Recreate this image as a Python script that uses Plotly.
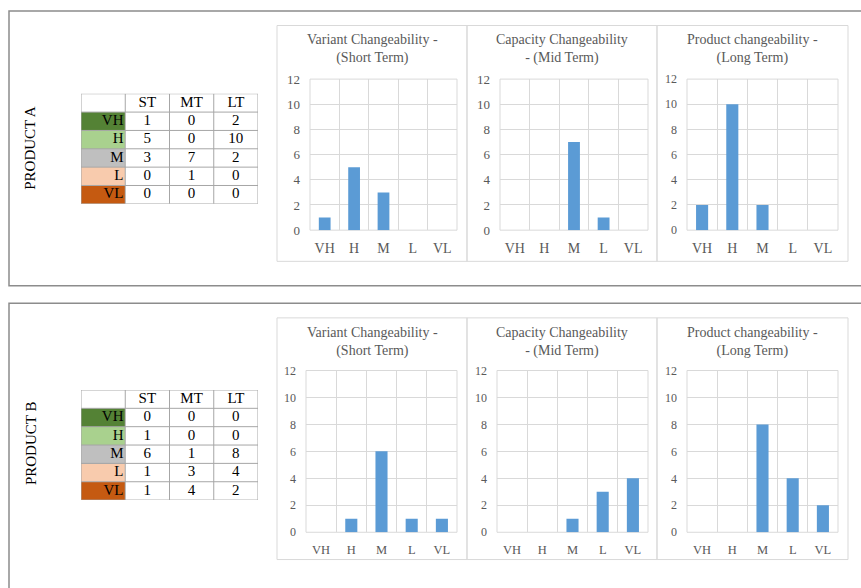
import plotly.graph_objects as go

# ---------------- data ----------------
cats = ["VH", "H", "M", "L", "VL"]
terms = ["ST", "MT", "LT"]
titles = ["Variant Changeability -<br>(Short Term)",
          "Capacity Changeability<br>- (Mid Term)",
          "Product changeability -<br>(Long Term)"]
a_st = [1, 5, 3, 0, 0]
a_mt = [0, 0, 7, 1, 0]
a_lt = [2, 10, 2, 0, 0]
b_st = [0, 1, 6, 1, 1]
b_mt = [0, 0, 1, 3, 4]
b_lt = [0, 0, 8, 4, 2]
products = ["PRODUCT A", "PRODUCT B"]
row_colors = ["#548235", "#A9D18E", "#BFBFBF", "#F8CBAD", "#C55A11"]

W, H = 861, 588
def fx(px): return px / W
def fy(py): return 1 - py / H

FONT = "Liberation Serif"
GRAY = "#595959"
GRID = "#D9D9D9"
BAR = "#5B9BD5"
TLINE = "#A6A6A6"

fig = go.Figure()

# plot-area geometry in pixels: (x0, x1, ytop, ybottom, tickfont, catfont, catstandoff)
geo = [
    (310, 457, 74, 229, 13, 14, 8),
    (500, 648, 74, 229, 13, 14, 8),
    (687, 838, 74, 229, 12, 14, 8),
    (306, 457, 373, 539, 12, 12.5, 8),
    (497, 648, 373, 539, 12, 12.5, 8),
    (687, 838, 373, 539, 12, 12.5, 8),
]
series = [a_st, a_mt, a_lt, b_st, b_mt, b_lt]
xpos = list(range(len(cats)))
minor_vals = [i - 0.5 for i in range(len(cats) + 1)]

shapes = []
annotations = []
for i, (vals, g) in enumerate(zip(series, geo)):
    x0, x1, yt, yb, tsz, csz, cso = g
    ax = "" if i == 0 else str(i + 1)
    fig.add_trace(go.Bar(x=xpos, y=vals, xaxis="x" + ax, yaxis="y" + ax,
                         marker=dict(color=BAR, line=dict(width=0)),
                         width=0.4, showlegend=False, hoverinfo="skip"))
    fig.layout["xaxis" + ax] = dict(
        domain=[fx(x0), fx(x1)], range=[-0.5, 4.5], anchor="y" + ax,
        tickvals=xpos, ticktext=cats, showgrid=False, zeroline=False,
        showline=False, ticks="", ticklabelstandoff=cso,
        tickfont=dict(family=FONT, size=csz, color=GRAY),
        minor=dict(tickvals=minor_vals, showgrid=True, gridcolor=GRID,
                   gridwidth=1, ticks=""))
    fig.layout["yaxis" + ax] = dict(
        domain=[fy(yb), fy(yt)], range=[0, 12], anchor="x" + ax,
        tick0=0, dtick=2, showgrid=True, gridcolor=GRID, gridwidth=1,
        zeroline=False, showline=False, ticks="", ticklabelstandoff=9,
        tickfont=dict(family=FONT, size=tsz, color=GRAY))
    shapes.append(dict(type="rect", xref="x" + ax + " domain", yref="y" + ax + " domain",
                       x0=0, x1=1, y0=0, y1=1, line=dict(color=GRID, width=1),
                       layer="below"))

# chart panels and titles
panel_x = [(277, 467), (467, 657), (657, 848)]
panel_y = [(19, 261), (319, 567)]
title_y = [43.5, 344]
for r in range(2):
    for c in range(3):
        px0, px1 = panel_x[c]
        py0, py1 = panel_y[r]
        shapes.append(dict(type="rect", xref="paper", yref="paper",
                           x0=fx(px0), x1=fx(px1), y0=fy(py1), y1=fy(py0),
                           line=dict(color=GRID, width=1)))
        annotations.append(dict(text=titles[c], xref="paper", yref="paper",
                                x=fx((px0 + px1) / 2), y=fy(title_y[r]),
                                showarrow=False, xanchor="center", yanchor="middle",
                                font=dict(family=FONT, size=14, color=GRAY)))

# outer boxes
shapes.append(dict(type="rect", xref="paper", yref="paper",
                   x0=fx(9), x1=fx(880), y0=fy(286), y1=fy(4),
                   line=dict(color="#8C8C8C", width=1.5)))
shapes.append(dict(type="rect", xref="paper", yref="paper",
                   x0=fx(9), x1=fx(880), y0=fy(610), y1=fy(304),
                   line=dict(color="#8C8C8C", width=1.5)))

# product labels
for lab, yc in zip(products, [145, 448]):
    annotations.append(dict(text=lab, xref="paper", yref="paper", x=fx(30.5), y=fy(yc),
                            textangle=-90, showarrow=False,
                            xanchor="center", yanchor="middle",
                            font=dict(family=FONT, size=15, color="black")))

# tables drawn on their own axes (cols 0..4, rows 0..6, row 0 = header)
tables = [([a_st, a_mt, a_lt], 89, 7), ([b_st, b_mt, b_lt], 393, 8)]
ncol = len(terms) + 1
nrow = len(cats) + 1
cscale = [[k / (len(row_colors) - 1), c] for k, c in enumerate(row_colors)]
for vals, top, n in tables:
    xa, ya = "x%d" % n, "y%d" % n
    fig.add_trace(go.Heatmap(z=[[k] for k in range(len(cats))],
                             x0=0.5, dx=1, y0=1.5, dy=1,
                             zmin=0, zmax=len(cats) - 1, colorscale=cscale,
                             showscale=False, hoverinfo="skip",
                             xaxis=xa, yaxis=ya))
    fig.add_trace(go.Scatter(x=[c + 1.5 for c in range(len(terms))], y=[0.5] * len(terms),
                             text=terms, mode="text", textposition="middle center",
                             textfont=dict(family=FONT, size=15, color="black"),
                             showlegend=False, hoverinfo="skip", xaxis=xa, yaxis=ya))
    fig.add_trace(go.Scatter(x=[0.96] * len(cats), y=[r + 1.5 for r in range(len(cats))],
                             text=cats, mode="text", textposition="middle left",
                             textfont=dict(family=FONT, size=15, color="black"),
                             showlegend=False, hoverinfo="skip", xaxis=xa, yaxis=ya))
    xs, ys, ts = [], [], []
    for c, col in enumerate(vals):
        for r, v in enumerate(col):
            xs.append(c + 1.5)
            ys.append(r + 1.5)
            ts.append(str(v))
    fig.add_trace(go.Scatter(x=xs, y=ys, text=ts, mode="text",
                             textposition="middle center",
                             textfont=dict(family=FONT, size=15, color="black"),
                             showlegend=False, hoverinfo="skip", xaxis=xa, yaxis=ya))
    fig.layout["xaxis%d" % n] = dict(domain=[fx(81), fx(258)], range=[0, ncol],
                                     visible=False, anchor=ya, fixedrange=True)
    fig.layout["yaxis%d" % n] = dict(domain=[fy(top + 113), fy(top)], range=[nrow, 0],
                                     visible=False, anchor=xa, fixedrange=True)
    for c in range(ncol + 1):
        shapes.append(dict(type="line", xref=xa, yref=ya, x0=c, x1=c, y0=0, y1=nrow,
                           line=dict(color=TLINE, width=1)))
    for r in range(nrow + 1):
        shapes.append(dict(type="line", xref=xa, yref=ya, x0=0, x1=ncol, y0=r, y1=r,
                           line=dict(color=TLINE, width=1)))

fig.update_layout(width=W, height=H, margin=dict(l=0, r=0, t=0, b=0),
                  paper_bgcolor="white", plot_bgcolor="white",
                  shapes=shapes, annotations=annotations, bargap=0.6,
                  font=dict(family=FONT), showlegend=False)

post = ("document.body.style.margin='0';document.body.style.padding='0';"
        "document.documentElement.style.overflow='hidden';document.body.style.overflow='hidden';"
        "var g=document.getElementById('{plot_id}');"
        "g.style.position='absolute';g.style.left='0px';g.style.top='0px';")
fig.write_html("out.html", post_script=post, config=dict(displayModeBar=False))
